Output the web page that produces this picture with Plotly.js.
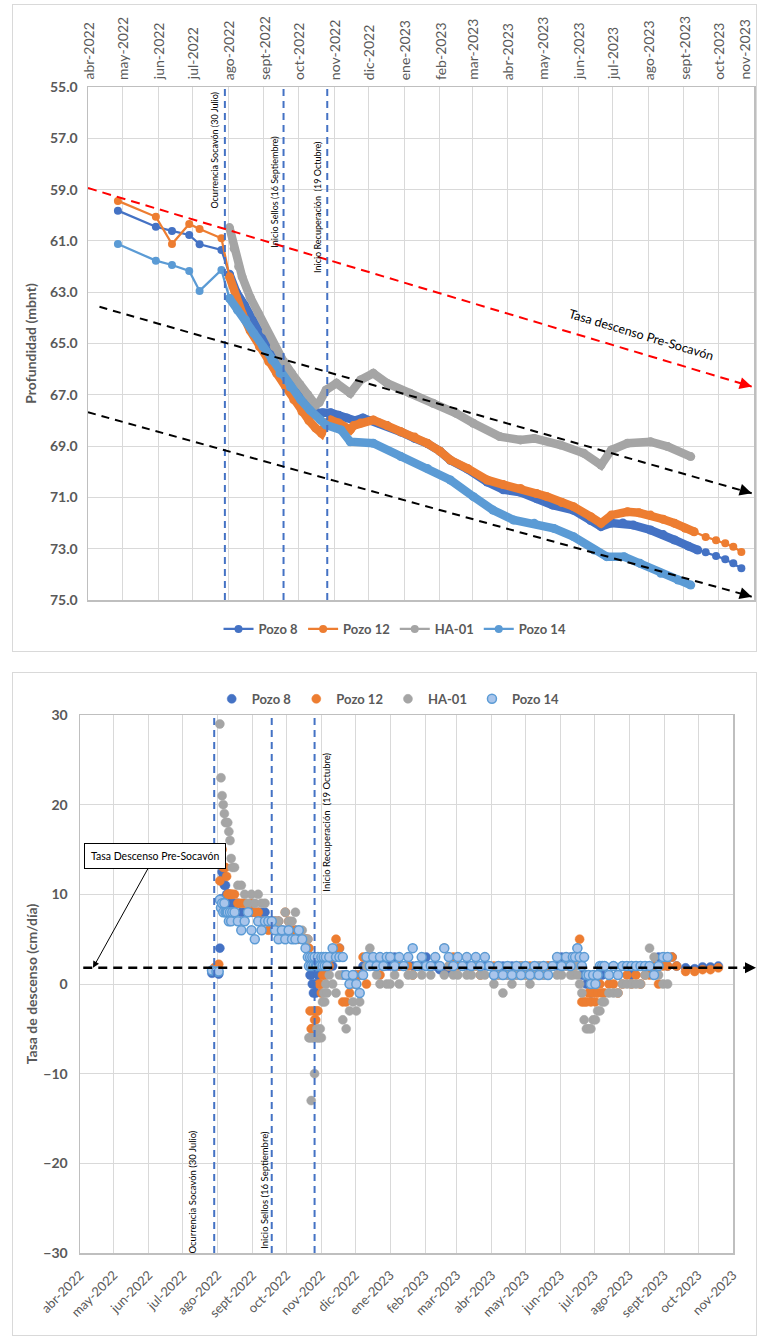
<!DOCTYPE html>
<html>
<head>
<meta charset="utf-8">
<script src="https://cdn.plot.ly/plotly-3.0.1.min.js"></script>
<style>
  html, body { margin:0; padding:0; background:#ffffff; }
  body { width:759px; height:1338px; position:relative; overflow:hidden; }
  .frame { position:absolute; border:1px solid #d9d9d9; box-sizing:border-box; }
  .plot { position:absolute; }
</style>
</head>
<body>
<div class="frame" style="left:12px;top:4px;width:745px;height:648px;"></div>
<div class="frame" style="left:12px;top:672px;width:745px;height:664px;"></div>
<div id="c1" class="plot" style="left:12px;top:4px;width:745px;height:648px;"></div>
<div id="c2" class="plot" style="left:12px;top:672px;width:745px;height:664px;"></div>
<script>
// ---------- shared axis data ----------
const monthVals = ['2022-04-01','2022-05-01','2022-06-01','2022-07-01','2022-08-01','2022-09-01','2022-10-01','2022-11-01','2022-12-01','2023-01-01','2023-02-01','2023-03-01','2023-04-01','2023-05-01','2023-06-01','2023-07-01','2023-08-01','2023-09-01','2023-10-01','2023-11-01'];
const monthText = ['abr-2022','may-2022','jun-2022','jul-2022','ago-2022','sept-2022','oct-2022','nov-2022','dic-2022','ene-2023','feb-2023','mar-2023','abr-2023','may-2023','jun-2023','jul-2023','ago-2023','sept-2023','oct-2023','nov-2023'];
const seriesNames = ['Pozo 8','Pozo 12','HA-01','Pozo 14'];
const seriesColors = ['#4472C4','#ED7D31','#A5A5A5','#5B9BD5'];
const depthTicks = [55,57,59,61,63,65,67,69,71,73,75];
const rateTicks = [-30,-20,-10,0,10,20,30];

// event dates (vertical dashed lines)
const eventDates = ['2022-07-29','2022-09-18','2022-10-26'];
const eventLabels = ['Ocurrencia Socavón (30 Julio)','Inicio Sellos (16 Septiembre)','Inicio Recuperación  (19 Octubre)'];

// trend lines (top chart)
const redTrendX = ['2022-04-01','2023-10-30'];
const redTrendY = [58.94, 66.68];
const blackTrend1X = ['2022-04-11','2023-10-30'];
const blackTrend1Y = [63.57, 70.84];
const blackTrend2X = ['2022-04-01','2023-10-30'];
const blackTrend2Y = [67.68, 74.87];
const preRate = 1.8; // cm/dia (bottom chart dashed line)

// ---------- top chart: depth (mbnt) ----------
// Pozo 8
const p8EarlyDates = ['2022-04-27','2022-05-30','2022-06-13','2022-06-28','2022-07-07','2022-07-26','2022-08-02'];
const p8EarlyVals  = [59.82,60.45,60.61,60.77,61.13,61.35,62.3];
const p8Dates = ['2022-08-02','2022-08-08','2022-08-15','2022-08-22','2022-08-29','2022-09-05','2022-09-12','2022-09-19','2022-09-26','2022-10-03','2022-10-10','2022-10-17','2022-10-22','2022-10-29','2022-11-05','2022-11-12','2022-11-19','2022-11-26','2022-12-03','2022-12-10','2022-12-17','2022-12-29','2023-01-10','2023-01-21','2023-02-01','2023-02-10','2023-02-25','2023-03-14','2023-03-28','2023-04-12','2023-04-26','2023-05-10','2023-05-28','2023-06-12','2023-06-21','2023-06-30','2023-07-10','2023-07-19','2023-08-03','2023-08-14','2023-08-24','2023-09-05','2023-09-13'];
const p8Vals  = [62.3,63.0,63.5,64.1,64.7,65.2,65.6,66.1,66.6,67.0,67.4,67.7,67.7,67.7,67.8,67.9,68.0,67.9,68.0,68.1,68.2,68.45,68.7,68.9,69.2,69.55,69.9,70.4,70.7,70.8,71.05,71.3,71.5,71.9,72.14,72.0,72.0,72.08,72.27,72.45,72.66,72.9,73.05];
const p8LateDates = ['2023-09-13','2023-09-20','2023-09-29','2023-10-07','2023-10-14','2023-10-21'];
const p8LateVals  = [73.05,73.14,73.28,73.41,73.57,73.76];
// Pozo 12
const p12EarlyDates = ['2022-04-27','2022-05-30','2022-06-13','2022-06-28','2022-07-07','2022-07-26','2022-08-02'];
const p12EarlyVals  = [59.44,60.06,61.12,60.34,60.54,60.9,62.4];
const p12Dates = ['2022-08-02','2022-08-08','2022-08-13','2022-08-20','2022-08-28','2022-09-05','2022-09-12','2022-09-20','2022-09-27','2022-10-04','2022-10-10','2022-10-16','2022-10-21','2022-10-25','2022-10-29','2022-11-05','2022-11-10','2022-11-15','2022-11-18','2022-11-24','2022-12-05','2022-12-17','2022-12-29','2023-01-10','2023-01-21','2023-02-01','2023-02-10','2023-02-25','2023-03-14','2023-03-28','2023-04-12','2023-04-26','2023-05-05','2023-05-18','2023-05-28','2023-06-12','2023-06-21','2023-06-30','2023-07-14','2023-07-24','2023-08-03','2023-08-14','2023-08-24','2023-09-02','2023-09-10'];
const p12Vals  = [62.4,63.2,63.82,64.5,65.12,65.7,66.16,66.7,67.2,67.65,68.0,68.3,68.5,68.1,67.98,68.1,68.25,68.37,68.2,68.1,67.98,68.2,68.44,68.65,68.89,69.2,69.54,69.87,70.32,70.5,70.65,70.85,70.97,71.2,71.36,71.75,72.01,71.69,71.56,71.6,71.69,71.85,72.01,72.2,72.34];
const p12LateDates = ['2023-09-10','2023-09-20','2023-09-29','2023-10-07','2023-10-14','2023-10-21'];
const p12LateVals  = [72.34,72.54,72.67,72.79,72.92,73.13];
// HA-01
const haDates = ['2022-08-02','2022-08-06','2022-08-10','2022-08-13','2022-08-20','2022-08-27','2022-09-03','2022-09-10','2022-09-18','2022-09-25','2022-10-02','2022-10-09','2022-10-16','2022-10-19','2022-10-25','2022-11-03','2022-11-15','2022-11-24','2022-12-05','2022-12-17','2023-01-06','2023-01-26','2023-02-15','2023-03-02','2023-03-25','2023-04-12','2023-04-24','2023-05-17','2023-06-06','2023-06-21','2023-06-30','2023-07-14','2023-08-03','2023-08-18','2023-09-07'];
const haVals  = [60.48,61.3,62.0,62.4,63.2,63.82,64.5,65.12,65.7,66.16,66.6,67.0,67.4,67.3,66.81,66.55,66.94,66.42,66.16,66.55,66.94,67.33,67.72,68.11,68.63,68.76,68.70,68.96,69.28,69.74,69.15,68.89,68.83,69.02,69.41];
// Pozo 14
const p14EarlyDates = ['2022-04-27','2022-05-30','2022-06-13','2022-06-28','2022-07-07','2022-07-26','2022-08-02'];
const p14EarlyVals  = [61.12,61.77,61.94,62.17,62.95,62.13,63.24];
const p14Dates = ['2022-08-02','2022-08-09','2022-08-16','2022-08-23','2022-08-31','2022-09-08','2022-09-15','2022-09-24','2022-10-03','2022-10-11','2022-10-20','2022-10-25','2022-11-07','2022-11-15','2022-12-05','2022-12-29','2023-01-21','2023-02-10','2023-03-02','2023-03-19','2023-04-06','2023-04-24','2023-05-11','2023-05-28','2023-06-15','2023-06-26','2023-07-11','2023-07-25','2023-08-12','2023-08-27','2023-09-07'];
const p14Vals  = [63.24,63.7,64.08,64.6,65.12,65.65,66.16,66.7,67.2,67.6,67.98,68.18,68.37,68.83,68.89,69.41,69.87,70.32,70.97,71.49,71.88,72.01,72.21,72.53,73.05,73.31,73.31,73.57,73.96,74.22,74.42];

// ---------- bottom chart: rate (cm/dia) ----------
const rateDates = [
 '2022-07-27','2022-07-29','2022-07-31','2022-08-02','2022-08-03','2022-08-04','2022-08-05','2022-08-06','2022-08-07','2022-08-08','2022-08-09','2022-08-10','2022-08-11','2022-08-12','2022-08-13','2022-08-14',
 '2022-08-16','2022-08-19','2022-08-22','2022-08-25','2022-08-28','2022-08-31','2022-09-03','2022-09-06','2022-09-09','2022-09-12','2022-09-15','2022-09-18','2022-09-21','2022-09-24','2022-09-27','2022-09-30','2022-10-03','2022-10-06','2022-10-09','2022-10-12','2022-10-15','2022-10-18',
 '2022-10-20','2022-10-21','2022-10-22','2022-10-23','2022-10-24','2022-10-25','2022-10-26','2022-10-27','2022-10-28','2022-10-29','2022-10-30','2022-10-31','2022-11-01','2022-11-02','2022-11-03','2022-11-04','2022-11-05','2022-11-06',
 '2022-11-08','2022-11-11','2022-11-14','2022-11-17','2022-11-20','2022-11-23','2022-11-26','2022-11-29','2022-12-02','2022-12-05','2022-12-08','2022-12-11','2022-12-14','2022-12-17','2022-12-20','2022-12-23','2022-12-26','2022-12-29',
 '2023-01-01','2023-01-05','2023-01-09','2023-01-13','2023-01-17','2023-01-21','2023-01-25','2023-01-29','2023-02-02','2023-02-06','2023-02-10','2023-02-14','2023-02-18','2023-02-22','2023-02-26','2023-03-02','2023-03-06','2023-03-10','2023-03-14','2023-03-18','2023-03-22','2023-03-26','2023-03-30','2023-04-03','2023-04-07','2023-04-11','2023-04-15','2023-04-19','2023-04-23','2023-04-27','2023-05-01','2023-05-05','2023-05-09','2023-05-13','2023-05-17','2023-05-21','2023-05-25','2023-05-29','2023-06-02','2023-06-06','2023-06-10',
 '2023-06-12','2023-06-14','2023-06-16','2023-06-18','2023-06-20','2023-06-22','2023-06-24','2023-06-26','2023-06-28','2023-06-30','2023-07-02','2023-07-04','2023-07-06','2023-07-08','2023-07-10',
 '2023-07-14','2023-07-18','2023-07-22','2023-07-26','2023-07-30','2023-08-03','2023-08-07','2023-08-11','2023-08-15','2023-08-19','2023-08-23','2023-08-27','2023-08-31','2023-09-04','2023-09-08','2023-09-12',
 '2023-09-20','2023-09-28','2023-10-05','2023-10-12','2023-10-19'];
const p8Rate = [
 1.2,1.3,null,1.1,4,9.5,12.5,12,11,11,10,10,10,9,9,9,
 9,9,8,8,8,8,8,8,8,8,7,7,7,7,6,6,6,6,6,5,5,5,
 4,3,1,1,0,-1,0,-1,0,1,1,2,2,2,3,3,2,3,
 3,2,3,4,1,1,0,1,1,1,2,2,3,2,2,3,2,2,
 2,3,2,2,3,2,2,2,3,2,2,1.6,1.5,1.4,2,3,2,2,2,3,2,2,2,1,2,2,1,2,1,2,2,1,2,2,1,2,2,2,3,2,3,
 3,3,4,3,1,1,0,0,-1,0,0,1,1,1,2,
 1,2,1,2,2,1,2,2,2,2,2,3,3,2,3,2,
 1.8,1.7,1.9,1.9,2.0];
const p12Rate = [
 null,1.8,null,2.2,11.5,15,15,13,13,13,12,10,10,10,10,10,
 10,9,9,9,8,9,8,8,7,7,6,7,7,7,6,8,7,6,6,5,5,5,
 5,4,-3,-5,-5,-3,-4,-4,-3,-3,0,0,-1,1,1,1,1,2,
 2,3,5,4,-2,-2,-1,0,1,1,3,0,2,3,2,1,2,3,
 3,2,2,2,2,1,2,3,2,2,3,2,4,2,3,2,2,3,2,2,1,3,2,2,1,1,2,1,2,2,1,2,2,1,2,2,2,3,2,3,2,
 3,2,3,5,-2,-2,-2,-1,-2,-1,-2,-1,0,-1,-1,
 0,0,-1,0,1,0,1,0,1,1,2,0,2,2,3,2,
 1.4,1.4,1.6,1.6,1.8];
const haRate = [
 null,null,null,null,29,23,21,20,19,18,18,18,17,16,14,13,
 13,11,11,10,9,10,9,10,9,9,7,7,7,7,6,8,7,7,8,6,6,5,
 5,-6,-6,-13,-6,-6,-10,-6,-5,-6,-6,-5,-6,-2,-1,-2,0,-1,
 1,0,-1,1,-4,-5,-3,-2,-3,-2,1,2,4,3,1,0,2,0,
 0,1,0,2,1,1,2,1,2,1,3,2,1,2,1,1,2,1,1,2,1,1,2,0,1,-1,1,0,1,2,1,0,1,2,1,1,2,1,1,2,1,
 1,2,1,0,-1,-4,-5,-5,-5,-4,-4,-3,-3,-2,-2,
 -1,-1,-1,0,0,0,0,0,1,4,3,1,0,0,null,null,
 null,null,null,null,null];
const p14Rate = [
 1.5,null,1.4,1.4,9.4,8.5,9,8,9,8,8,8,7,8,7,8,
 8,7,6,7,8,6,5,7,6,7,7,7,6,5,6,5,6,5,5,6,5,4,
 3,2,3,2,3,2,3,2,2,3,2,2,3,2,3,2,3,2,
 3,4,3,3,3,1,0,1,0,-1,1,3,2,3,2,3,2,3,
 3,2,3,2,3,4,2,3,2,2,3,2,4,3,2,3,2,3,2,3,2,3,2,1,2,1,2,1,2,1,2,1,2,1,2,1,2,3,2,3,2,
 3,3,4,3,2,3,1,1,0,1,0,1,2,2,2,
 1,2,1,2,2,2,2,2,2,2,1,2,3,3,null,null,
 null,null,null,null,null];

// ---------- styling ----------
const FONT = 'Lato, "Open Sans", "Liberation Sans", sans-serif';
const GREY = '#595959';
const GRID = '#d9d9d9';

// ---------- top chart traces ----------
function depthTrace(x, y, color, thick) {
  return {
    type:'scatter', mode:'lines+markers', x:x, y:y, showlegend:false, hoverinfo:'skip',
    line:{color:color, width: thick ? 8.5 : 2.25},
    marker:{color:color, size: thick ? 9 : 8, line:{width:0}}
  };
}
const topTraces = [
  depthTrace(p8EarlyDates, p8EarlyVals, seriesColors[0], false),
  depthTrace(p8Dates, p8Vals, seriesColors[0], true),
  depthTrace(p8LateDates, p8LateVals, seriesColors[0], false),
  depthTrace(p12EarlyDates, p12EarlyVals, seriesColors[1], false),
  depthTrace(p12Dates, p12Vals, seriesColors[1], true),
  depthTrace(p12LateDates, p12LateVals, seriesColors[1], false),
  depthTrace(haDates, haVals, seriesColors[2], true),
  depthTrace(p14EarlyDates, p14EarlyVals, seriesColors[3], false),
  depthTrace(p14Dates, p14Vals, seriesColors[3], true)
];
// legend-only entries (line + marker symbol)
seriesNames.forEach((n, i) => {
  topTraces.push({type:'scatter', mode:'lines+markers', x:[null], y:[null], name:n, showlegend:true,
    line:{color:seriesColors[i], width:2.25}, marker:{color:seriesColors[i], size:8}});
});

const topShapes = [];
eventDates.forEach(d => topShapes.push({type:'line', xref:'x', yref:'paper', x0:d, x1:d, y0:0, y1:1,
  line:{color:'#4472C4', width:2, dash:'7px,5px'}, layer:'above'}));
topShapes.push({type:'line', xref:'x', yref:'y', x0:redTrendX[0], x1:redTrendX[1], y0:redTrendY[0], y1:redTrendY[1],
  line:{color:'#FF0000', width:2, dash:'9px,6px'}, layer:'above'});
topShapes.push({type:'line', xref:'x', yref:'y', x0:blackTrend1X[0], x1:blackTrend1X[1], y0:blackTrend1Y[0], y1:blackTrend1Y[1],
  line:{color:'#000000', width:2, dash:'8px,6px'}, layer:'above'});
topShapes.push({type:'line', xref:'x', yref:'y', x0:blackTrend2X[0], x1:blackTrend2X[1], y0:blackTrend2Y[0], y1:blackTrend2Y[1],
  line:{color:'#000000', width:2, dash:'8px,6px'}, layer:'above'});

const topAnn = [
  {xref:'x', yref:'y', x:redTrendX[1], y:redTrendY[1], ax:-10, ay:-3, showarrow:true, arrowhead:2, arrowsize:1.2, arrowwidth:2, arrowcolor:'#FF0000', text:'', standoff:0},
  {xref:'x', yref:'y', x:blackTrend1X[1], y:blackTrend1Y[1], ax:-10, ay:-3, showarrow:true, arrowhead:2, arrowsize:1.2, arrowwidth:2, arrowcolor:'#000000', text:'', standoff:0},
  {xref:'x', yref:'y', x:blackTrend2X[1], y:blackTrend2Y[1], ax:-10, ay:-3, showarrow:true, arrowhead:2, arrowsize:1.2, arrowwidth:2, arrowcolor:'#000000', text:'', standoff:0},
  {xref:'paper', yref:'paper', x:0.83, y:0.517, xanchor:'center', yanchor:'middle', text:'Tasa descenso Pre-Socavón', showarrow:false, textangle:16.6,
   font:{family:FONT, size:12.5, color:'#000000'}},
  {xref:'paper', yref:'paper', x:0.1907, y:0.994, yanchor:'top', xanchor:'center', text:eventLabels[0], showarrow:false, textangle:-90,
   font:{family:FONT, size:9, color:'#000000'}},
  {xref:'paper', yref:'paper', x:0.2808, y:0.682, yanchor:'bottom', xanchor:'center', text:eventLabels[1], showarrow:false, textangle:-90,
   font:{family:FONT, size:9, color:'#000000'}},
  {xref:'paper', yref:'paper', x:0.3438, y:0.6335, yanchor:'bottom', xanchor:'center', text:eventLabels[2], showarrow:false, textangle:-90,
   font:{family:FONT, size:9, color:'#000000'}}
];
// month labels along the top edge (vertical, reading upward); the last one nudged inside the frame
monthVals.forEach((d, i) => topAnn.push({xref:'x', yref:'paper', x:d, y:1, yshift:5,
  xanchor: (i === monthVals.length - 1) ? 'right' : 'center', yanchor:'bottom',
  text:monthText[i], showarrow:false, textangle:-90, font:{family:FONT, size:14, color:GREY}}));

const layout1 = {
  width:745, height:648, margin:{l:76, r:3, t:83, b:52},
  paper_bgcolor:'rgba(0,0,0,0)', plot_bgcolor:'#ffffff',
  font:{family:FONT, color:GREY},
  showlegend:true, hovermode:false,
  legend:{orientation:'h', x:0.461, xanchor:'center', y:-0.0565, yanchor:'middle',
    font:{family:FONT, size:13, color:GREY, weight:'bold'}, bgcolor:'rgba(0,0,0,0)', itemwidth:30, traceorder:'normal'},
  xaxis:{type:'date', side:'top', range:['2022-04-01','2023-11-01'], tickvals:monthVals, ticktext:monthText,
    showticklabels:false, showgrid:true, gridcolor:GRID, gridwidth:1,
    showline:true, linecolor:'#bfbfbf', linewidth:1.5, mirror:true, zeroline:false, ticks:'', fixedrange:true},
  yaxis:{range:[75,55], tickvals:depthTicks, tickformat:'.1f', tickfont:{family:FONT, size:14, color:GREY, weight:'bold'},
    showgrid:true, gridcolor:GRID, gridwidth:1, showline:true, linecolor:'#bfbfbf', linewidth:1.5, mirror:true,
    zeroline:false, ticks:'', ticklabelstandoff:6,
    title:{text:'Profundidad (mbnt)', font:{family:FONT, size:14, color:GREY, weight:'bold'}, standoff:10}},
  shapes:topShapes, annotations:topAnn
};

Plotly.newPlot('c1', topTraces, layout1, {staticPlot:true, displayModeBar:false});

// ---------- bottom chart ----------
const rateSeries = [p8Rate, p12Rate, haRate, p14Rate];
const botTraces = rateSeries.map((vals, i) => {
  const isP14 = (i === 3);
  return {
    type:'scatter', mode:'markers', x:rateDates, y:vals, name:seriesNames[i],
    marker:{size:9, color: isP14 ? '#A9C5EB' : seriesColors[i],
      line:{color: isP14 ? '#5B9BD5' : seriesColors[i], width: isP14 ? 1.5 : 0.5}}
  };
});

const botShapes = [];
eventDates.forEach(d => botShapes.push({type:'line', xref:'x', yref:'paper', x0:d, x1:d, y0:0, y1:1,
  line:{color:'#4472C4', width:2, dash:'7px,5px'}, layer:'above'}));
botShapes.push({type:'line', xref:'paper', yref:'paper', x0:0.005, x1:1.0368, y0:(preRate+30)/60, y1:(preRate+30)/60,
  line:{color:'#000000', width:2.5, dash:'9px,6px'}, layer:'above'});

const botAnn = [
  {xref:'paper', yref:'paper', x:1.0368, y:(preRate+30)/60, ax:-10, ay:0, showarrow:true, arrowhead:2, arrowsize:1.1, arrowwidth:2,
   arrowcolor:'#000000', text:'', standoff:0},
  {xref:'paper', yref:'paper', x:0.0199, y:(preRate+30)/60, ax:62, ay:-112, showarrow:true, arrowhead:2, arrowsize:1.3, arrowwidth:1,
   arrowcolor:'#000000', text:'Tasa Descenso Pre-Socavón', font:{family:FONT, size:10.5, color:'#000000'},
   bordercolor:'#000000', borderwidth:1, borderpad:6, bgcolor:'#ffffff'},
  {xref:'paper', yref:'paper', x:0.378, y:0.6685, yanchor:'bottom', xanchor:'center', text:eventLabels[2], showarrow:false, textangle:-90,
   font:{family:FONT, size:9.5, color:'#000000'}},
  {xref:'paper', yref:'paper', x:0.173, y:-0.004, yanchor:'bottom', xanchor:'center', text:eventLabels[0], showarrow:false, textangle:-90,
   font:{family:FONT, size:9.5, color:'#000000'}},
  {xref:'paper', yref:'paper', x:0.2833, y:0.004, yanchor:'bottom', xanchor:'center', text:eventLabels[1], showarrow:false, textangle:-90,
   font:{family:FONT, size:9.5, color:'#000000'}}
];

const layout2 = {
  width:745, height:664, margin:{l:68, r:24, t:41, b:83},
  paper_bgcolor:'rgba(0,0,0,0)', plot_bgcolor:'#ffffff',
  font:{family:FONT, color:GREY},
  showlegend:true, hovermode:false,
  legend:{orientation:'h', x:0.472, xanchor:'center', y:1.03, yanchor:'middle',
    font:{family:FONT, size:13, color:GREY, weight:'bold'}, bgcolor:'rgba(0,0,0,0)', itemwidth:30, traceorder:'normal'},
  xaxis:{type:'date', range:['2022-04-01','2023-11-01'], tickvals:monthVals, ticktext:monthText,
    tickangle:-45, tickfont:{family:FONT, size:13, color:GREY}, showgrid:true, gridcolor:GRID, gridwidth:1,
    showline:true, linecolor:'#bfbfbf', linewidth:1.5, mirror:true, zeroline:false, ticks:'', ticklabelstandoff:8},
  yaxis:{range:[-30,30], tickvals:rateTicks, tickfont:{family:FONT, size:14, color:GREY, weight:'bold'},
    showgrid:true, gridcolor:GRID, gridwidth:1, showline:true, linecolor:'#bfbfbf', linewidth:1.5, mirror:true,
    zeroline:false, ticks:'', ticklabelstandoff:8,
    title:{text:'Tasa de descenso (cm/día)', font:{family:FONT, size:14, color:GREY, weight:'bold'}, standoff:2}},
  shapes:botShapes, annotations:botAnn
};

Plotly.newPlot('c2', botTraces, layout2, {staticPlot:true, displayModeBar:false});
</script>
</body>
</html>
